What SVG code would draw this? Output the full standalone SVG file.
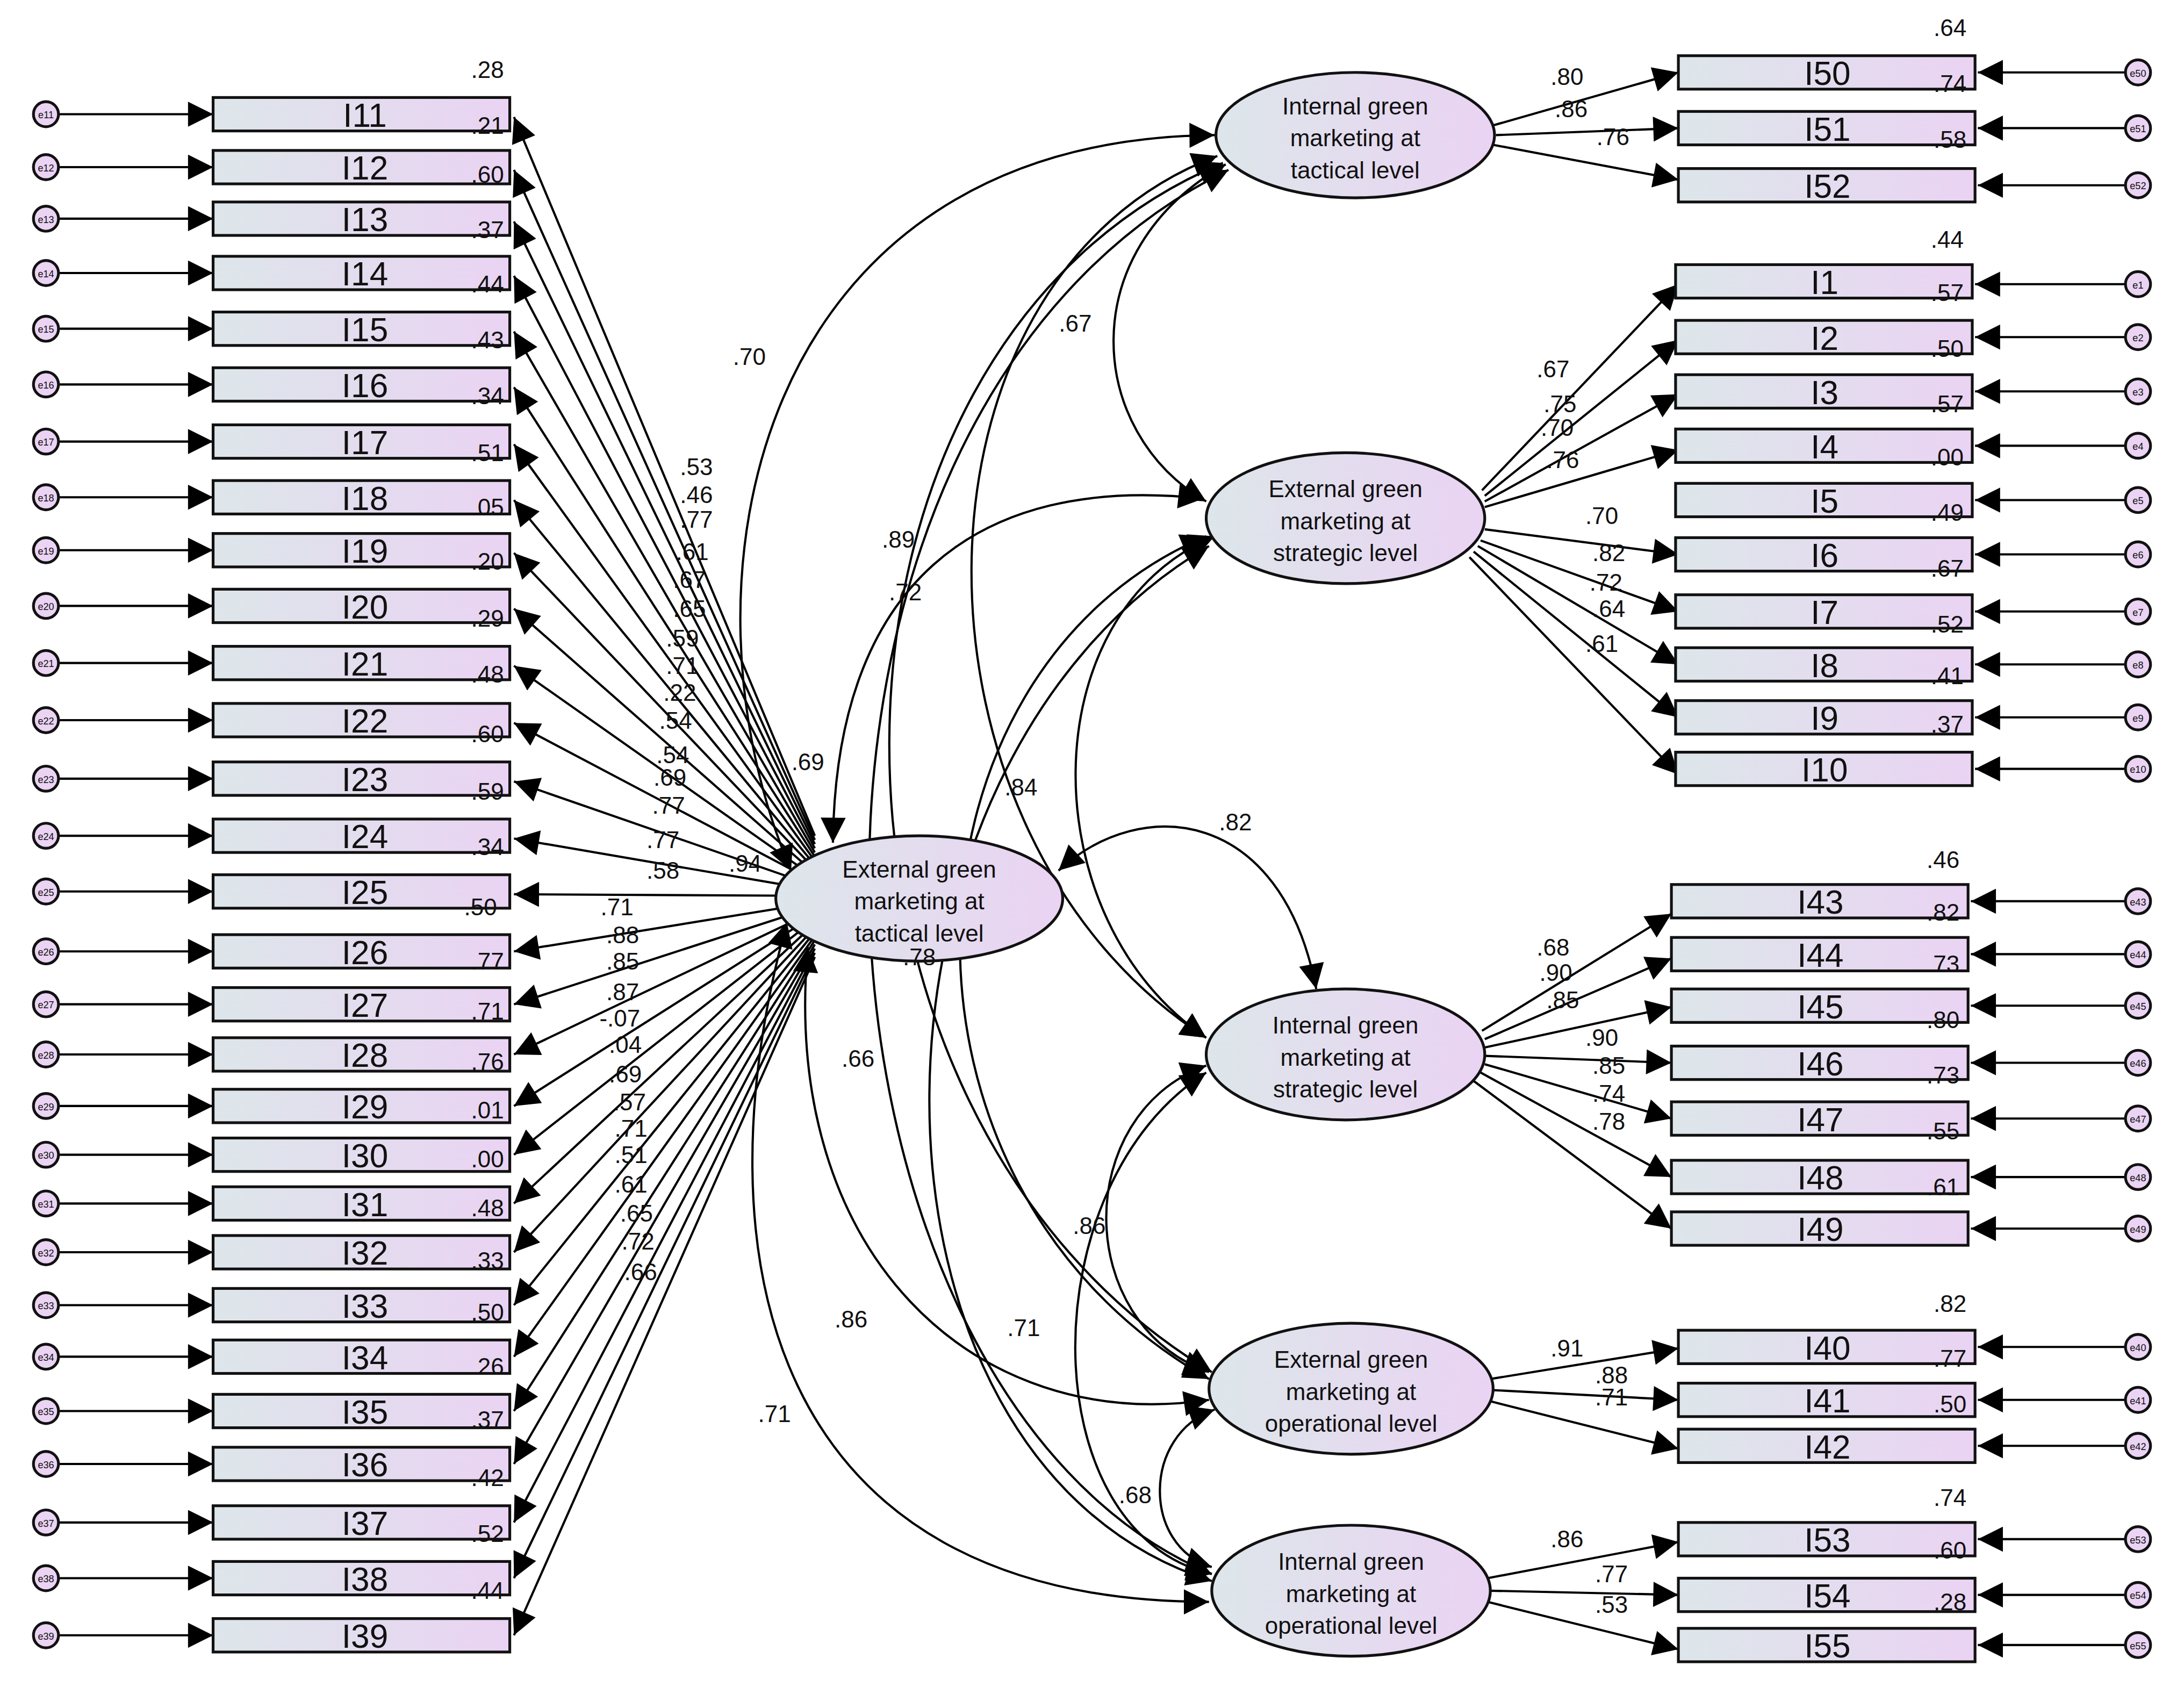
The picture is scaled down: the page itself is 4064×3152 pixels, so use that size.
<svg xmlns="http://www.w3.org/2000/svg" width="4064" height="3152" viewBox="0 0 4064 3152">
<defs>
<linearGradient id="g" x1="0" x2="1" y1="0" y2="0"><stop offset="0" stop-color="#dde6ea"/><stop offset="1" stop-color="#ead3f3"/></linearGradient>
<marker id="a" viewBox="0 0 10 10" refX="10" refY="5" markerWidth="28" markerHeight="18" markerUnits="userSpaceOnUse" orient="auto-start-reverse"><path d="M0,0 L10,5 L0,10 z" fill="#000"/></marker>
<style>
.box{fill:url(#g);stroke:#111;stroke-width:2}
.lat{fill:url(#g);stroke:#111;stroke-width:2}
.err{fill:#ead3f3;stroke:#111;stroke-width:2}
.ln{fill:none;stroke:#000;stroke-width:1.6;marker-end:url(#a)}
.cv{fill:none;stroke:#000;stroke-width:1.6;marker-end:url(#a);marker-start:url(#a)}
.bt{font-family:"Liberation Sans",Arial,sans-serif;font-size:24px;text-anchor:middle;fill:#111}
.lt{font-family:"Liberation Sans",Arial,sans-serif;font-size:17px;text-anchor:middle;fill:#111}
.nt{font-family:"Liberation Sans",Arial,sans-serif;font-size:17px;text-anchor:middle;fill:#111}
.et{font-family:"Liberation Sans",Arial,sans-serif;font-size:7px;text-anchor:middle;fill:#111}
</style>
</defs>
<rect width="4064" height="3152" fill="#fff"/>
<g transform="scale(2.5918)">
<g id="connectors">
<path class="ln" d="M42 82H153"/><path class="ln" d="M42 120H153"/><path class="ln" d="M42 157H153"/><path class="ln" d="M42 196H153"/><path class="ln" d="M42 236H153"/><path class="ln" d="M42 276H153"/><path class="ln" d="M42 317H153"/><path class="ln" d="M42 357H153"/><path class="ln" d="M42 395H153"/><path class="ln" d="M42 435H153"/><path class="ln" d="M42 476H153"/><path class="ln" d="M42 517H153"/><path class="ln" d="M42 559H153"/><path class="ln" d="M42 600H153"/><path class="ln" d="M42 640H153"/><path class="ln" d="M42 683H153"/><path class="ln" d="M42 721H153"/><path class="ln" d="M42 757H153"/><path class="ln" d="M42 794H153"/><path class="ln" d="M42 829H153"/><path class="ln" d="M42 864H153"/><path class="ln" d="M42 899H153"/><path class="ln" d="M42 937H153"/><path class="ln" d="M42 974H153"/><path class="ln" d="M42 1013H153"/><path class="ln" d="M42 1051H153"/><path class="ln" d="M42 1093H153"/><path class="ln" d="M42 1133H153"/><path class="ln" d="M42 1174H153"/>
<path class="ln" d="M585 600L369 84"/><path class="ln" d="M585 603L369 122"/><path class="ln" d="M585 606L369 159"/><path class="ln" d="M585 609L369 198"/><path class="ln" d="M585 612L369 238"/><path class="ln" d="M585 615L369 278"/><path class="ln" d="M585 618L369 319"/><path class="ln" d="M585 621L369 359"/><path class="ln" d="M585 624L369 397"/><path class="ln" d="M585 627L369 437"/><path class="ln" d="M585 630L369 478"/><path class="ln" d="M585 633L369 519"/><path class="ln" d="M585 636L369 561"/><path class="ln" d="M585 639L369 602"/><path class="ln" d="M558 643L369 642"/><path class="ln" d="M585 648L369 683"/><path class="ln" d="M585 651L369 721"/><path class="ln" d="M585 654L369 757"/><path class="ln" d="M585 657L369 794"/><path class="ln" d="M585 660L369 829"/><path class="ln" d="M585 663L369 864"/><path class="ln" d="M585 666L369 899"/><path class="ln" d="M585 669L369 937"/><path class="ln" d="M585 672L369 974"/><path class="ln" d="M585 675L369 1013"/><path class="ln" d="M585 678L369 1051"/><path class="ln" d="M585 681L369 1093"/><path class="ln" d="M585 684L369 1133"/><path class="ln" d="M585 687L369 1174"/>
<path class="ln" d="M1072 90L1205 52"/><path class="ln" d="M1074 97L1205 92"/><path class="ln" d="M1072 104L1205 129"/>
<path class="ln" d="M1064 352L1205 204"/><path class="ln" d="M1066 356L1205 244"/><path class="ln" d="M1066 360L1205 283"/><path class="ln" d="M1066 364L1205 323"/><path class="ln" d="M1066 380L1205 398"/><path class="ln" d="M1063 388L1205 439"/><path class="ln" d="M1061 392L1205 477"/><path class="ln" d="M1058 396L1205 515"/><path class="ln" d="M1055 400L1205 556"/>
<path class="ln" d="M1064 740L1200 656"/><path class="ln" d="M1066 746L1200 688"/><path class="ln" d="M1066 752L1200 723"/><path class="ln" d="M1066 758L1200 763"/><path class="ln" d="M1066 764L1200 803"/><path class="ln" d="M1063 770L1200 845"/><path class="ln" d="M1058 776L1200 882"/>
<path class="ln" d="M1070 990L1205 968"/><path class="ln" d="M1072 998L1205 1005"/><path class="ln" d="M1070 1006L1205 1040"/>
<path class="ln" d="M1068 1133L1205 1107"/><path class="ln" d="M1070 1142L1205 1145"/><path class="ln" d="M1068 1150L1205 1184"/>
<path class="ln" d="M1526 52H1420"/><path class="ln" d="M1526 92H1420"/><path class="ln" d="M1526 133H1420"/><path class="ln" d="M1526 204H1418"/><path class="ln" d="M1526 242H1418"/><path class="ln" d="M1526 281H1418"/><path class="ln" d="M1526 320H1418"/><path class="ln" d="M1526 359H1418"/><path class="ln" d="M1526 398H1418"/><path class="ln" d="M1526 439H1418"/><path class="ln" d="M1526 477H1418"/><path class="ln" d="M1526 515H1418"/><path class="ln" d="M1526 552H1418"/><path class="ln" d="M1526 647H1415"/><path class="ln" d="M1526 685H1415"/><path class="ln" d="M1526 722H1415"/><path class="ln" d="M1526 763H1415"/><path class="ln" d="M1526 803H1415"/><path class="ln" d="M1526 845H1415"/><path class="ln" d="M1526 882H1415"/><path class="ln" d="M1526 967H1420"/><path class="ln" d="M1526 1005H1420"/><path class="ln" d="M1526 1038H1420"/><path class="ln" d="M1526 1105H1420"/><path class="ln" d="M1526 1145H1420"/><path class="ln" d="M1526 1181H1420"/>
<path class="cv" d="M568 625C480 420 540 100 872 97"/>
<path class="cv" d="M880 118C770 180 780 310 866 360"/>
<path class="cv" d="M598 605C600 420 700 340 864 358"/>
<path class="cv" d="M760 625C820 570 920 580 945 710"/>
<path class="cv" d="M872 385C740 440 740 660 866 745"/>
<path class="cv" d="M874 112C640 200 640 600 866 745"/>
<path class="cv" d="M878 117C560 250 560 800 870 985"/>
<path class="cv" d="M882 122C520 300 560 1000 870 1130"/>
<path class="cv" d="M866 385C640 480 620 850 868 990"/>
<path class="cv" d="M868 392C600 550 600 1050 870 1135"/>
<path class="cv" d="M866 765C770 800 770 950 868 985"/>
<path class="cv" d="M866 770C740 850 740 1100 870 1130"/>
<path class="cv" d="M872 1012C820 1030 820 1110 870 1125"/>
<path class="cv" d="M580 680C560 900 700 1030 868 1005"/>
<path class="cv" d="M565 662C500 900 550 1150 868 1150"/>
</g>
<g id="lefterrnodes">
<g id="e11"><circle class="err" cx="33" cy="82" r="9"/><text class="et" x="33" y="85">e11</text></g>
<g id="e12"><circle class="err" cx="33" cy="120" r="9"/><text class="et" x="33" y="123">e12</text></g>
<g id="e13"><circle class="err" cx="33" cy="157" r="9"/><text class="et" x="33" y="160">e13</text></g>
<g id="e14"><circle class="err" cx="33" cy="196" r="9"/><text class="et" x="33" y="199">e14</text></g>
<g id="e15"><circle class="err" cx="33" cy="236" r="9"/><text class="et" x="33" y="239">e15</text></g>
<g id="e16"><circle class="err" cx="33" cy="276" r="9"/><text class="et" x="33" y="279">e16</text></g>
<g id="e17"><circle class="err" cx="33" cy="317" r="9"/><text class="et" x="33" y="320">e17</text></g>
<g id="e18"><circle class="err" cx="33" cy="357" r="9"/><text class="et" x="33" y="360">e18</text></g>
<g id="e19"><circle class="err" cx="33" cy="395" r="9"/><text class="et" x="33" y="398">e19</text></g>
<g id="e20"><circle class="err" cx="33" cy="435" r="9"/><text class="et" x="33" y="438">e20</text></g>
<g id="e21"><circle class="err" cx="33" cy="476" r="9"/><text class="et" x="33" y="479">e21</text></g>
<g id="e22"><circle class="err" cx="33" cy="517" r="9"/><text class="et" x="33" y="520">e22</text></g>
<g id="e23"><circle class="err" cx="33" cy="559" r="9"/><text class="et" x="33" y="562">e23</text></g>
<g id="e24"><circle class="err" cx="33" cy="600" r="9"/><text class="et" x="33" y="603">e24</text></g>
<g id="e25"><circle class="err" cx="33" cy="640" r="9"/><text class="et" x="33" y="643">e25</text></g>
<g id="e26"><circle class="err" cx="33" cy="683" r="9"/><text class="et" x="33" y="686">e26</text></g>
<g id="e27"><circle class="err" cx="33" cy="721" r="9"/><text class="et" x="33" y="724">e27</text></g>
<g id="e28"><circle class="err" cx="33" cy="757" r="9"/><text class="et" x="33" y="760">e28</text></g>
<g id="e29"><circle class="err" cx="33" cy="794" r="9"/><text class="et" x="33" y="797">e29</text></g>
<g id="e30"><circle class="err" cx="33" cy="829" r="9"/><text class="et" x="33" y="832">e30</text></g>
<g id="e31"><circle class="err" cx="33" cy="864" r="9"/><text class="et" x="33" y="867">e31</text></g>
<g id="e32"><circle class="err" cx="33" cy="899" r="9"/><text class="et" x="33" y="902">e32</text></g>
<g id="e33"><circle class="err" cx="33" cy="937" r="9"/><text class="et" x="33" y="940">e33</text></g>
<g id="e34"><circle class="err" cx="33" cy="974" r="9"/><text class="et" x="33" y="977">e34</text></g>
<g id="e35"><circle class="err" cx="33" cy="1013" r="9"/><text class="et" x="33" y="1016">e35</text></g>
<g id="e36"><circle class="err" cx="33" cy="1051" r="9"/><text class="et" x="33" y="1054">e36</text></g>
<g id="e37"><circle class="err" cx="33" cy="1093" r="9"/><text class="et" x="33" y="1096">e37</text></g>
<g id="e38"><circle class="err" cx="33" cy="1133" r="9"/><text class="et" x="33" y="1136">e38</text></g>
<g id="e39"><circle class="err" cx="33" cy="1174" r="9"/><text class="et" x="33" y="1177">e39</text></g>
</g>
<g id="leftitems">
<g id="I11"><rect class="box" x="153" y="70" width="213" height="24"/><text class="bt" x="262" y="91">I11</text></g>
<g id="I12"><rect class="box" x="153" y="108" width="213" height="24"/><text class="bt" x="262" y="129">I12</text></g>
<g id="I13"><rect class="box" x="153" y="145" width="213" height="24"/><text class="bt" x="262" y="166">I13</text></g>
<g id="I14"><rect class="box" x="153" y="184" width="213" height="24"/><text class="bt" x="262" y="205">I14</text></g>
<g id="I15"><rect class="box" x="153" y="224" width="213" height="24"/><text class="bt" x="262" y="245">I15</text></g>
<g id="I16"><rect class="box" x="153" y="264" width="213" height="24"/><text class="bt" x="262" y="285">I16</text></g>
<g id="I17"><rect class="box" x="153" y="305" width="213" height="24"/><text class="bt" x="262" y="326">I17</text></g>
<g id="I18"><rect class="box" x="153" y="345" width="213" height="24"/><text class="bt" x="262" y="366">I18</text></g>
<g id="I19"><rect class="box" x="153" y="383" width="213" height="24"/><text class="bt" x="262" y="404">I19</text></g>
<g id="I20"><rect class="box" x="153" y="423" width="213" height="24"/><text class="bt" x="262" y="444">I20</text></g>
<g id="I21"><rect class="box" x="153" y="464" width="213" height="24"/><text class="bt" x="262" y="485">I21</text></g>
<g id="I22"><rect class="box" x="153" y="505" width="213" height="24"/><text class="bt" x="262" y="526">I22</text></g>
<g id="I23"><rect class="box" x="153" y="547" width="213" height="24"/><text class="bt" x="262" y="568">I23</text></g>
<g id="I24"><rect class="box" x="153" y="588" width="213" height="24"/><text class="bt" x="262" y="609">I24</text></g>
<g id="I25"><rect class="box" x="153" y="628" width="213" height="24"/><text class="bt" x="262" y="649">I25</text></g>
<g id="I26"><rect class="box" x="153" y="671" width="213" height="24"/><text class="bt" x="262" y="692">I26</text></g>
<g id="I27"><rect class="box" x="153" y="709" width="213" height="24"/><text class="bt" x="262" y="730">I27</text></g>
<g id="I28"><rect class="box" x="153" y="745" width="213" height="24"/><text class="bt" x="262" y="766">I28</text></g>
<g id="I29"><rect class="box" x="153" y="782" width="213" height="24"/><text class="bt" x="262" y="803">I29</text></g>
<g id="I30"><rect class="box" x="153" y="817" width="213" height="24"/><text class="bt" x="262" y="838">I30</text></g>
<g id="I31"><rect class="box" x="153" y="852" width="213" height="24"/><text class="bt" x="262" y="873">I31</text></g>
<g id="I32"><rect class="box" x="153" y="887" width="213" height="24"/><text class="bt" x="262" y="908">I32</text></g>
<g id="I33"><rect class="box" x="153" y="925" width="213" height="24"/><text class="bt" x="262" y="946">I33</text></g>
<g id="I34"><rect class="box" x="153" y="962" width="213" height="24"/><text class="bt" x="262" y="983">I34</text></g>
<g id="I35"><rect class="box" x="153" y="1001" width="213" height="24"/><text class="bt" x="262" y="1022">I35</text></g>
<g id="I36"><rect class="box" x="153" y="1039" width="213" height="24"/><text class="bt" x="262" y="1060">I36</text></g>
<g id="I37"><rect class="box" x="153" y="1081" width="213" height="24"/><text class="bt" x="262" y="1102">I37</text></g>
<g id="I38"><rect class="box" x="153" y="1121" width="213" height="24"/><text class="bt" x="262" y="1142">I38</text></g>
<g id="I39"><rect class="box" x="153" y="1162" width="213" height="24"/><text class="bt" x="262" y="1183">I39</text></g>
</g>
<g id="rightitems">
<g id="I50"><rect class="box" x="1205" y="40" width="213" height="24"/><text class="bt" x="1312" y="61">I50</text></g>
<g id="I51"><rect class="box" x="1205" y="80" width="213" height="24"/><text class="bt" x="1312" y="101">I51</text></g>
<g id="I52"><rect class="box" x="1205" y="121" width="213" height="24"/><text class="bt" x="1312" y="142">I52</text></g>
<g id="I1"><rect class="box" x="1203" y="190" width="213" height="24"/><text class="bt" x="1310" y="211">I1</text></g>
<g id="I2"><rect class="box" x="1203" y="230" width="213" height="24"/><text class="bt" x="1310" y="251">I2</text></g>
<g id="I3"><rect class="box" x="1203" y="269" width="213" height="24"/><text class="bt" x="1310" y="290">I3</text></g>
<g id="I4"><rect class="box" x="1203" y="308" width="213" height="24"/><text class="bt" x="1310" y="329">I4</text></g>
<g id="I5"><rect class="box" x="1203" y="347" width="213" height="24"/><text class="bt" x="1310" y="368">I5</text></g>
<g id="I6"><rect class="box" x="1203" y="386" width="213" height="24"/><text class="bt" x="1310" y="407">I6</text></g>
<g id="I7"><rect class="box" x="1203" y="427" width="213" height="24"/><text class="bt" x="1310" y="448">I7</text></g>
<g id="I8"><rect class="box" x="1203" y="465" width="213" height="24"/><text class="bt" x="1310" y="486">I8</text></g>
<g id="I9"><rect class="box" x="1203" y="503" width="213" height="24"/><text class="bt" x="1310" y="524">I9</text></g>
<g id="I10"><rect class="box" x="1203" y="540" width="213" height="24"/><text class="bt" x="1310" y="561">I10</text></g>
<g id="I43"><rect class="box" x="1200" y="635" width="213" height="24"/><text class="bt" x="1307" y="656">I43</text></g>
<g id="I44"><rect class="box" x="1200" y="673" width="213" height="24"/><text class="bt" x="1307" y="694">I44</text></g>
<g id="I45"><rect class="box" x="1200" y="710" width="213" height="24"/><text class="bt" x="1307" y="731">I45</text></g>
<g id="I46"><rect class="box" x="1200" y="751" width="213" height="24"/><text class="bt" x="1307" y="772">I46</text></g>
<g id="I47"><rect class="box" x="1200" y="791" width="213" height="24"/><text class="bt" x="1307" y="812">I47</text></g>
<g id="I48"><rect class="box" x="1200" y="833" width="213" height="24"/><text class="bt" x="1307" y="854">I48</text></g>
<g id="I49"><rect class="box" x="1200" y="870" width="213" height="24"/><text class="bt" x="1307" y="891">I49</text></g>
<g id="I40"><rect class="box" x="1205" y="955" width="213" height="24"/><text class="bt" x="1312" y="976">I40</text></g>
<g id="I41"><rect class="box" x="1205" y="993" width="213" height="24"/><text class="bt" x="1312" y="1014">I41</text></g>
<g id="I42"><rect class="box" x="1205" y="1026" width="213" height="24"/><text class="bt" x="1312" y="1047">I42</text></g>
<g id="I53"><rect class="box" x="1205" y="1093" width="213" height="24"/><text class="bt" x="1312" y="1114">I53</text></g>
<g id="I54"><rect class="box" x="1205" y="1133" width="213" height="24"/><text class="bt" x="1312" y="1154">I54</text></g>
<g id="I55"><rect class="box" x="1205" y="1169" width="213" height="24"/><text class="bt" x="1312" y="1190">I55</text></g>
</g>
<g id="righterr">
<g id="e50"><circle class="err" cx="1535" cy="52" r="9"/><text class="et" x="1535" y="55">e50</text></g>
<g id="e51"><circle class="err" cx="1535" cy="92" r="9"/><text class="et" x="1535" y="95">e51</text></g>
<g id="e52"><circle class="err" cx="1535" cy="133" r="9"/><text class="et" x="1535" y="136">e52</text></g>
<g id="e1"><circle class="err" cx="1535" cy="204" r="9"/><text class="et" x="1535" y="207">e1</text></g>
<g id="e2"><circle class="err" cx="1535" cy="242" r="9"/><text class="et" x="1535" y="245">e2</text></g>
<g id="e3"><circle class="err" cx="1535" cy="281" r="9"/><text class="et" x="1535" y="284">e3</text></g>
<g id="e4"><circle class="err" cx="1535" cy="320" r="9"/><text class="et" x="1535" y="323">e4</text></g>
<g id="e5"><circle class="err" cx="1535" cy="359" r="9"/><text class="et" x="1535" y="362">e5</text></g>
<g id="e6"><circle class="err" cx="1535" cy="398" r="9"/><text class="et" x="1535" y="401">e6</text></g>
<g id="e7"><circle class="err" cx="1535" cy="439" r="9"/><text class="et" x="1535" y="442">e7</text></g>
<g id="e8"><circle class="err" cx="1535" cy="477" r="9"/><text class="et" x="1535" y="480">e8</text></g>
<g id="e9"><circle class="err" cx="1535" cy="515" r="9"/><text class="et" x="1535" y="518">e9</text></g>
<g id="e10"><circle class="err" cx="1535" cy="552" r="9"/><text class="et" x="1535" y="555">e10</text></g>
<g id="e43"><circle class="err" cx="1535" cy="647" r="9"/><text class="et" x="1535" y="650">e43</text></g>
<g id="e44"><circle class="err" cx="1535" cy="685" r="9"/><text class="et" x="1535" y="688">e44</text></g>
<g id="e45"><circle class="err" cx="1535" cy="722" r="9"/><text class="et" x="1535" y="725">e45</text></g>
<g id="e46"><circle class="err" cx="1535" cy="763" r="9"/><text class="et" x="1535" y="766">e46</text></g>
<g id="e47"><circle class="err" cx="1535" cy="803" r="9"/><text class="et" x="1535" y="806">e47</text></g>
<g id="e48"><circle class="err" cx="1535" cy="845" r="9"/><text class="et" x="1535" y="848">e48</text></g>
<g id="e49"><circle class="err" cx="1535" cy="882" r="9"/><text class="et" x="1535" y="885">e49</text></g>
<g id="e40"><circle class="err" cx="1535" cy="967" r="9"/><text class="et" x="1535" y="970">e40</text></g>
<g id="e41"><circle class="err" cx="1535" cy="1005" r="9"/><text class="et" x="1535" y="1008">e41</text></g>
<g id="e42"><circle class="err" cx="1535" cy="1038" r="9"/><text class="et" x="1535" y="1041">e42</text></g>
<g id="e53"><circle class="err" cx="1535" cy="1105" r="9"/><text class="et" x="1535" y="1108">e53</text></g>
<g id="e54"><circle class="err" cx="1535" cy="1145" r="9"/><text class="et" x="1535" y="1148">e54</text></g>
<g id="e55"><circle class="err" cx="1535" cy="1181" r="9"/><text class="et" x="1535" y="1184">e55</text></g>
</g>
<g id="latents">
<g id="EGMtact"><ellipse class="lat" cx="660" cy="645" rx="103" ry="45"/><text class="lt" x="660" y="630">External green</text><text class="lt" x="660" y="653">marketing at</text><text class="lt" x="660" y="676">tactical level</text></g>
<g id="IGMtact"><ellipse class="lat" cx="973" cy="97" rx="100" ry="45"/><text class="lt" x="973" y="82">Internal green</text><text class="lt" x="973" y="105">marketing at</text><text class="lt" x="973" y="128">tactical level</text></g>
<g id="EGMstrat"><ellipse class="lat" cx="966" cy="372" rx="100" ry="47"/><text class="lt" x="966" y="357">External green</text><text class="lt" x="966" y="380">marketing at</text><text class="lt" x="966" y="403">strategic level</text></g>
<g id="IGMstrat"><ellipse class="lat" cx="966" cy="757" rx="100" ry="47"/><text class="lt" x="966" y="742">Internal green</text><text class="lt" x="966" y="765">marketing at</text><text class="lt" x="966" y="788">strategic level</text></g>
<g id="EGMoper"><ellipse class="lat" cx="970" cy="997" rx="102" ry="47"/><text class="lt" x="970" y="982">External green</text><text class="lt" x="970" y="1005">marketing at</text><text class="lt" x="970" y="1028">operational level</text></g>
<g id="IGMoper"><ellipse class="lat" cx="970" cy="1142" rx="100" ry="47"/><text class="lt" x="970" y="1127">Internal green</text><text class="lt" x="970" y="1150">marketing at</text><text class="lt" x="970" y="1173">operational level</text></g>
</g>
<g id="labels">
<text class="nt" x="350" y="56">.28</text><text class="nt" x="350" y="96">.21</text><text class="nt" x="350" y="131">.60</text><text class="nt" x="350" y="171">.37</text><text class="nt" x="350" y="210">.44</text><text class="nt" x="350" y="250">.43</text><text class="nt" x="350" y="290">.34</text><text class="nt" x="350" y="331">.51</text><text class="nt" x="350" y="370">.05</text><text class="nt" x="350" y="409">.20</text><text class="nt" x="350" y="450">.29</text><text class="nt" x="350" y="490">.48</text><text class="nt" x="350" y="533">.60</text><text class="nt" x="350" y="574">.59</text><text class="nt" x="350" y="614">.34</text><text class="nt" x="345" y="657">.50</text><text class="nt" x="350" y="696">.77</text><text class="nt" x="350" y="732">.71</text><text class="nt" x="350" y="768">.76</text><text class="nt" x="350" y="803">.01</text><text class="nt" x="350" y="838">.00</text><text class="nt" x="350" y="873">.48</text><text class="nt" x="350" y="911">.33</text><text class="nt" x="350" y="948">.50</text><text class="nt" x="350" y="987">.26</text><text class="nt" x="350" y="1025">.37</text><text class="nt" x="350" y="1067">.42</text><text class="nt" x="350" y="1107">.52</text><text class="nt" x="350" y="1148">.44</text>
<text class="nt" x="500" y="341">.53</text><text class="nt" x="500" y="361">.46</text><text class="nt" x="500" y="379">.77</text><text class="nt" x="497" y="402">.61</text><text class="nt" x="495" y="422">.67</text><text class="nt" x="495" y="443">.65</text><text class="nt" x="490" y="464">.59</text><text class="nt" x="490" y="484">.71</text><text class="nt" x="488" y="503">.22</text><text class="nt" x="485" y="523">.54</text><text class="nt" x="483" y="548">.54</text><text class="nt" x="481" y="564">.69</text><text class="nt" x="480" y="584">.77</text><text class="nt" x="476" y="609">.77</text><text class="nt" x="476" y="631">.58</text><text class="nt" x="535" y="626">.94</text>
<text class="nt" x="443" y="657">.71</text><text class="nt" x="447" y="677">.88</text><text class="nt" x="447" y="696">.85</text><text class="nt" x="447" y="718">.87</text><text class="nt" x="445" y="737">-.07</text><text class="nt" x="449" y="756">.04</text><text class="nt" x="449" y="777">.69</text><text class="nt" x="452" y="797">.57</text><text class="nt" x="453" y="816">.71</text><text class="nt" x="453" y="835">.51</text><text class="nt" x="453" y="856">.61</text><text class="nt" x="457" y="877">.65</text><text class="nt" x="458" y="897">.72</text><text class="nt" x="460" y="919">.66</text>
<text class="nt" x="538" y="262">.70</text><text class="nt" x="645" y="393">.89</text><text class="nt" x="650" y="431">.72</text><text class="nt" x="772" y="238">.67</text><text class="nt" x="580" y="553">.69</text><text class="nt" x="733" y="571">.84</text><text class="nt" x="887" y="596">.82</text><text class="nt" x="660" y="693">.78</text><text class="nt" x="616" y="766">.66</text><text class="nt" x="782" y="886">.86</text><text class="nt" x="611" y="953">.86</text><text class="nt" x="735" y="959">.71</text><text class="nt" x="556" y="1021">.71</text><text class="nt" x="815" y="1079">.68</text>
<text class="nt" x="1125" y="61">.80</text><text class="nt" x="1128" y="84">.86</text><text class="nt" x="1158" y="104">.76</text>
<text class="nt" x="1115" y="271">.67</text><text class="nt" x="1120" y="296">.75</text><text class="nt" x="1118" y="313">.70</text><text class="nt" x="1122" y="336">.76</text><text class="nt" x="1150" y="376">.70</text><text class="nt" x="1155" y="403">.82</text><text class="nt" x="1153" y="424">.72</text><text class="nt" x="1155" y="443">.64</text><text class="nt" x="1150" y="468">.61</text>
<text class="nt" x="1115" y="686">.68</text><text class="nt" x="1117" y="704">.90</text><text class="nt" x="1122" y="724">.85</text><text class="nt" x="1150" y="751">.90</text><text class="nt" x="1155" y="771">.85</text><text class="nt" x="1155" y="791">.74</text><text class="nt" x="1155" y="811">.78</text>
<text class="nt" x="1125" y="974">.91</text><text class="nt" x="1157" y="993">.88</text><text class="nt" x="1157" y="1009">.71</text>
<text class="nt" x="1125" y="1111">.86</text><text class="nt" x="1157" y="1136">.77</text><text class="nt" x="1157" y="1158">.53</text>
<text class="nt" x="1400" y="26">.64</text><text class="nt" x="1400" y="66">.74</text><text class="nt" x="1400" y="106">.58</text>
<text class="nt" x="1398" y="178">.44</text><text class="nt" x="1398" y="216">.57</text><text class="nt" x="1398" y="256">.50</text><text class="nt" x="1398" y="296">.57</text><text class="nt" x="1398" y="334">.00</text><text class="nt" x="1398" y="374">.49</text><text class="nt" x="1398" y="414">.67</text><text class="nt" x="1398" y="454">.52</text><text class="nt" x="1398" y="491">.41</text><text class="nt" x="1398" y="526">.37</text>
<text class="nt" x="1395" y="623">.46</text><text class="nt" x="1395" y="661">.82</text><text class="nt" x="1395" y="698">.73</text><text class="nt" x="1395" y="738">.80</text><text class="nt" x="1395" y="778">.73</text><text class="nt" x="1395" y="818">.55</text><text class="nt" x="1395" y="858">.61</text>
<text class="nt" x="1400" y="942">.82</text><text class="nt" x="1400" y="981">.77</text><text class="nt" x="1400" y="1014">.50</text>
<text class="nt" x="1400" y="1081">.74</text><text class="nt" x="1400" y="1119">.60</text><text class="nt" x="1400" y="1156">.28</text>
</g>
</g>
</svg>
